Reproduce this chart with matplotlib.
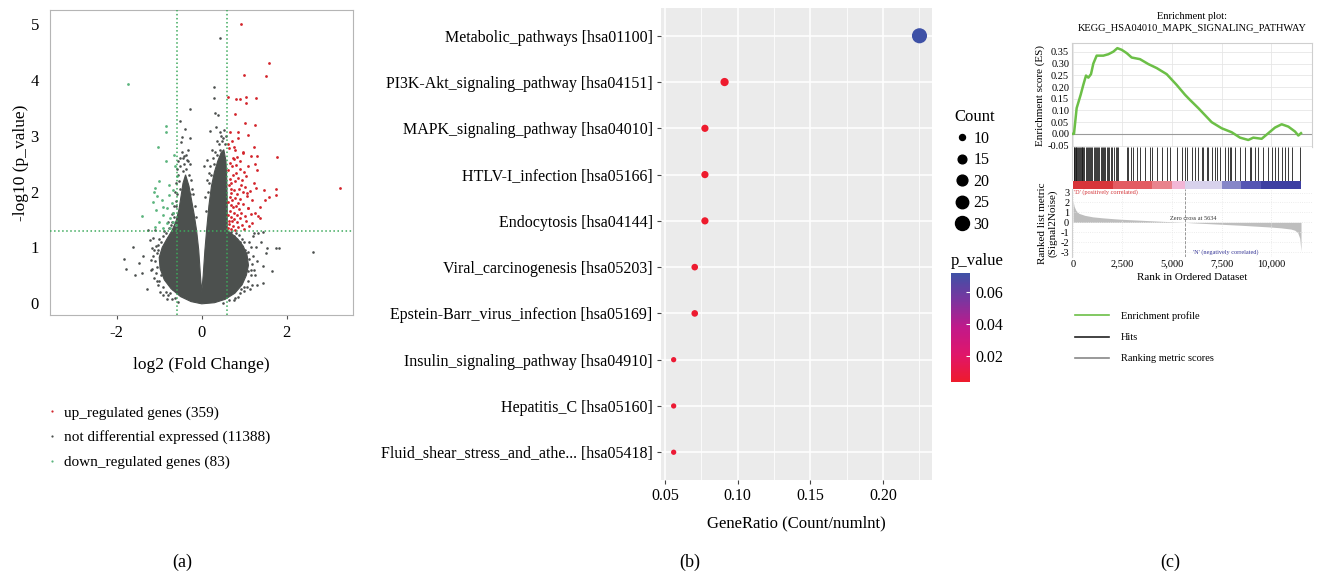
import numpy as np
import matplotlib
matplotlib.use('Agg')
import matplotlib.pyplot as plt
from matplotlib.colors import LinearSegmentedColormap, BoundaryNorm, ListedColormap
from matplotlib.lines import Line2D
from matplotlib.ticker import FuncFormatter

plt.rcParams['font.family'] = ['Liberation Serif', 'DejaVu Serif']
plt.rcParams['axes.unicode_minus'] = False

W, H = 1317, 573

# ---------------- (a) volcano data ----------------
fc_cut = 0.585
p_cut = 1.301
volcano_labels = ['up_regulated genes (359)', 'not differential expressed (11388)', 'down_regulated genes (83)']

# outline of the densest part of the grey cloud (log2FC, -log10 p)
core_x = [0.0, -0.25, -0.5, -0.72, -0.88, -0.98, -1.0, -0.93, -0.82, -0.7, -0.6, -0.53, -0.48, -0.44, -0.38,
          -0.3, -0.24, -0.18, -0.12, -0.07, -0.03, 0.0,
          0.035, 0.075, 0.12, 0.17, 0.23, 0.3, 0.38, 0.46, 0.52, 0.57, 0.59, 0.6, 0.6, 0.7, 0.85, 0.98, 1.07,
          1.1, 1.05, 0.95, 0.78, 0.55, 0.3]
core_y = [-0.01, 0.03, 0.12, 0.26, 0.42, 0.62, 0.82, 1.0, 1.15, 1.3, 1.48, 1.7, 1.95, 2.15, 2.3,
          2.1, 1.85, 1.6, 1.3, 0.95, 0.5, 0.2,
          0.5, 0.95, 1.35, 1.75, 2.1, 2.35, 2.55, 2.7, 2.75, 2.55, 2.2, 1.8, 1.3, 1.25, 1.15, 1.02, 0.85,
          0.68, 0.5, 0.33, 0.18, 0.07, 0.01]

# loose points round the edge of the cloud
gray_fringe = [(-0.55, 2.3), (-0.5, 2.45), (-0.42, 2.5), (-0.36, 2.4), (-0.3, 2.3), (-0.25, 2.2), (-0.52, 2.05),
               (-0.57, 1.95), (-0.6, 1.75), (-0.65, 1.55), (-0.7, 1.45), (-0.2, 1.95), (-0.16, 1.75),
               (-0.14, 1.55), (-0.56, 2.55), (-0.47, 2.7), (-0.4, 2.2), (-0.33, 2.55), (-0.45, 2.05),
               (-0.28, 1.95), (-1.05, 0.9), (-1.1, 0.75), (-1.08, 0.55), (-1.0, 0.4), (-0.9, 0.3), (-0.95, 1.1),
               (-0.85, 1.25), (-0.78, 1.35), (-0.62, 0.1), (-0.8, 0.15), (-1.15, 0.85), (-1.12, 0.45),
               (-0.97, 0.2), (-0.7, 0.08), (-1.02, 1.05), (-0.9, 1.2), (-0.73, 1.4), (-1.06, 0.65),
               (-1.13, 0.95), (-1.08, 1.02), (-1.0, 1.15), (-0.96, 0.5), (-1.04, 0.32), (-0.92, 0.15),
               (-0.82, 0.08), (-0.55, 0.02), (-1.18, 0.62), (-1.2, 0.78), (-0.88, 1.3), (-0.8, 1.45), (-0.7, 1.6),
               (-0.66, 1.75), (-0.62, 2.0), (-0.6, 2.15), (-0.58, 2.4), (-0.5, 2.6), (-0.38, 2.65), (-0.28, 2.5),
               (-0.22, 2.05),
               (0.55, 2.85), (0.48, 2.9), (0.42, 2.75), (0.35, 2.65), (0.28, 2.5), (0.22, 2.3), (0.15, 2.0),
               (0.1, 1.65), (0.58, 3.0), (0.62, 1.2), (0.75, 1.2), (0.9, 1.1), (1.02, 0.95), (1.12, 0.8),
               (1.15, 0.6), (1.1, 0.4), (1.0, 0.22), (0.85, 0.12), (0.65, 0.05), (1.18, 0.7), (1.15, 1.0),
               (0.8, 1.25), (0.95, 1.15), (0.7, 1.28), (0.5, 2.95), (0.4, 2.85), (0.32, 2.7), (0.18, 2.15),
               (1.08, 0.92), (1.2, 0.85), (1.17, 0.5), (1.06, 0.3), (0.93, 0.25), (0.78, 0.1), (0.5, 0.01),
               (1.12, 1.1), (0.88, 1.22), (1.0, 1.1), (1.23, 0.6), (1.14, 0.25), (0.45, 3.0), (0.52, 3.1),
               (0.36, 2.9), (0.26, 2.6), (0.2, 2.45), (0.13, 2.2), (0.08, 1.9)]

gray_pts = [(0.43, 4.74), (0.30, 3.88), (0.29, 3.68), (-0.28, 3.47), (-0.51, 3.27), (0.31, 3.40), (0.39, 3.37),
            (-0.39, 3.12), (0.33, 3.16), (0.43, 3.06), (-0.47, 2.98), (-0.28, 2.95), (0.20, 3.09), (-0.49, 2.89),
            (-0.42, 2.63), (-0.35, 2.57), (-0.45, 2.36), (-0.53, 2.18), (0.12, 2.57), (0.16, 2.33), (-0.61, 1.83),
            (-0.67, 1.61), (-0.33, 2.75), (-0.45, 2.60), (0.05, 2.45), (0.25, 2.75),
            (-1.84, 0.79), (-1.78, 0.61), (-1.62, 1.01), (-1.57, 0.51), (-1.47, 0.72), (-1.41, 0.54), (-1.29, 0.25),
            (-1.37, 0.84), (-1.22, 1.13), (-1.18, 0.99), (-1.26, 1.31), (-1.10, 1.31), (-1.14, 1.16), (-0.75, 0.18),
            (-0.67, 0.25), (-1.02, 0.95), (-0.92, 0.70), (-1.20, 0.60), (-1.05, 0.40), (-0.85, 0.20),
            (1.22, 1.25), (1.28, 1.01), (1.45, 0.66), (1.53, 0.99), (1.65, 0.57), (1.75, 0.99), (1.83, 0.99),
            (1.45, 0.36), (1.29, 0.33), (1.18, 0.33), (1.25, 0.51), (0.98, 0.66), (1.10, 0.57), (2.63, 0.91),
            (1.51, 0.90), (1.33, 1.25), (1.45, 1.28), (0.90, 0.18), (0.75, 0.06), (1.40, 1.10), (1.20, 1.20),
            (1.05, 0.90), (1.30, 0.75), (1.00, 0.30)]

up_pts = [(0.92, 5.00), (1.58, 4.30), (1.00, 4.09), (1.51, 4.06), (0.61, 3.70), (0.81, 3.65), (0.90, 3.65),
          (1.04, 3.69), (1.04, 3.59), (1.27, 3.67), (0.78, 3.38), (1.02, 3.23), (1.26, 3.20), (0.67, 3.07),
          (0.86, 3.06), (1.10, 3.01), (1.24, 2.80), (1.77, 2.61), (3.26, 2.07), (1.75, 2.04), (1.75, 1.94),
          (1.59, 1.90), (1.29, 2.63), (0.63, 2.86), (0.75, 2.80), (0.98, 2.69), (1.15, 2.63), (1.26, 2.49),
          (1.29, 2.39), (1.47, 2.03), (1.49, 1.85), (1.37, 1.73), (1.33, 1.56), (1.37, 1.52), (1.18, 1.44),
          (1.26, 1.61), (1.23, 2.16), (1.28, 2.06), (1.18, 1.85), (1.10, 1.70), (1.06, 1.97),
          (0.62, 1.35), (0.65, 1.42), (0.68, 1.33), (0.71, 1.48), (0.74, 1.38), (0.78, 1.31), (0.82, 1.45),
          (0.86, 1.36), (0.90, 1.52), (0.95, 1.40), (1.00, 1.33), (1.05, 1.47), (1.12, 1.38),
          (0.63, 1.58), (0.67, 1.66), (0.70, 1.55), (0.73, 1.72), (0.77, 1.61), (0.80, 1.75), (0.84, 1.58),
          (0.88, 1.68), (0.93, 1.62), (0.98, 1.78), (1.03, 1.57), (1.08, 1.70), (1.16, 1.60),
          (0.62, 1.82), (0.66, 1.90), (0.69, 1.97), (0.72, 1.85), (0.76, 2.02), (0.79, 1.88), (0.83, 1.95),
          (0.87, 2.05), (0.91, 1.86), (0.96, 1.99), (1.01, 2.08), (1.06, 1.92), (1.13, 2.01),
          (0.64, 2.12), (0.67, 2.22), (0.70, 2.15), (0.74, 2.30), (0.78, 2.18), (0.81, 2.33), (0.85, 2.24),
          (0.89, 2.40), (0.94, 2.20), (0.99, 2.35), (1.04, 2.27), (1.10, 2.45),
          (0.63, 2.38), (0.66, 2.52), (0.71, 2.45), (0.75, 2.58), (0.80, 2.48), (0.84, 2.62), (0.90, 2.55),
          (0.97, 2.70), (0.65, 2.78), (0.72, 2.90), (0.79, 2.75), (0.86, 2.95),
          (0.64, 1.47), (0.69, 1.76), (0.75, 1.50), (0.85, 1.80), (0.68, 2.05), (0.73, 2.60), (0.92, 2.12)]

down_pts = [(-1.74, 3.93), (-0.85, 3.17), (-0.84, 3.06), (-1.02, 2.79), (-0.65, 2.66), (-0.85, 2.55), (-1.10, 2.06),
            (-1.12, 2.00), (-1.00, 2.18), (-0.78, 2.12), (-0.67, 2.03), (-0.59, 2.27), (-0.94, 1.85), (-0.78, 1.94),
            (-0.71, 1.79), (-1.15, 1.82), (-1.41, 1.56), (-0.82, 1.70), (-0.67, 1.61), (-1.08, 1.67), (-0.90, 1.58),
            (-0.75, 1.52), (-1.00, 1.46), (-0.82, 1.43), (-0.67, 1.46), (-1.10, 1.37), (-0.92, 1.34), (-0.75, 1.34),
            (-0.61, 1.40), (-0.63, 2.45), (-1.06, 1.92), (-0.90, 1.73)]

# ---------------- (b) KEGG dot plot data ----------------
pathways = ['Metabolic_pathways [hsa01100]', 'PI3K-Akt_signaling_pathway [hsa04151]',
            'MAPK_signaling_pathway [hsa04010]', 'HTLV-I_infection [hsa05166]', 'Endocytosis [hsa04144]',
            'Viral_carcinogenesis [hsa05203]', 'Epstein-Barr_virus_infection [hsa05169]',
            'Insulin_signaling_pathway [hsa04910]', 'Hepatitis_C [hsa05160]',
            'Fluid_shear_stress_and_athe... [hsa05418]']
gene_ratio = [0.225, 0.091, 0.0775, 0.0775, 0.0775, 0.0705, 0.0705, 0.056, 0.056, 0.056]
counts = [34, 14, 12, 12, 12, 11, 11, 9, 9, 9]
p_values = [0.072, 0.0045, 0.004, 0.0042, 0.004, 0.005, 0.005, 0.006, 0.006, 0.0065]
count_legend = [10, 15, 20, 25, 30]

# ---------------- (c) GSEA data ----------------
es_rank = [0, 50, 185, 388, 520, 657, 775, 909, 1027, 1195, 1532, 1785, 2037, 2240, 2458, 2710, 2963, 3384,
           3805, 4226, 4731, 5236, 5657, 5909, 6330, 7003, 7508, 8013, 8434, 8854, 9106, 9528, 9865, 10202,
           10539, 10876, 11212, 11380, 11515]
es_val = [0.0, 0.0, 0.11, 0.167, 0.209, 0.249, 0.24, 0.255, 0.30, 0.334, 0.334, 0.34, 0.351, 0.366, 0.359,
          0.345, 0.326, 0.319, 0.298, 0.281, 0.255, 0.209, 0.167, 0.145, 0.11, 0.05, 0.024, 0.007, -0.016,
          -0.026, -0.016, -0.021, 0.003, 0.027, 0.041, 0.031, 0.01, -0.007, 0.003]

hits = [30, 60, 95, 130, 160, 210, 250, 300, 340, 380, 430, 470, 520, 560, 640, 700, 760, 800, 850, 900, 980,
        1050, 1100, 1150, 1210, 1260, 1330, 1390, 1450, 1520, 1580, 1640, 1700, 1760, 1830, 1900, 1980, 2060,
        2150, 2230, 2290, 2712, 2800, 2950, 3050, 3217, 3384, 3636, 3888, 3973, 4226, 4478, 4731, 4899, 5236,
        5488, 5656, 5741, 5994, 6162, 6330, 6498, 6582, 6751, 6834, 7003, 7171, 7256, 7424, 7676, 7845, 7929,
        7960, 8181, 8434, 8686, 8939, 8970, 9191, 9359, 9612, 9864, 10033, 10201, 10369, 10538, 10706, 10874,
        11043, 11464]

rm_rank = [0, 60, 150, 300, 600, 1000, 1500, 2000, 2500, 3000, 3500, 4000, 4500, 5000, 5634, 6000, 6500, 7000,
           7500, 8000, 8500, 9000, 9500, 10000, 10500, 11000, 11200, 11350, 11450, 11515]
rm_val = [2.2, 1.6, 1.2, 0.9, 0.7, 0.55, 0.45, 0.37, 0.3, 0.25, 0.2, 0.15, 0.1, 0.06, 0.0, -0.05, -0.1, -0.15,
          -0.2, -0.25, -0.3, -0.36, -0.42, -0.48, -0.56, -0.68, -0.8, -1.05, -1.6, -2.9]
zero_cross = 5634


def box(l, t, r, b):
    # caixa em pixels -> fração da figura
    return [l / W, 1 - b / H, (r - l) / W, (b - t) / H]


fig = plt.figure(figsize=(W / 100, H / 100), dpi=100)

# ======== (a) volcano ========
ax_a = fig.add_axes(box(50, 10, 353, 315))
gray_c, up_c, down_c = '#4c504e', '#d3252c', '#5cb57e'
ax_a.fill(core_x, core_y, color=gray_c, lw=0.8, zorder=1)
g = np.array(gray_pts + gray_fringe).T
u = np.array(up_pts).T
d = np.array(down_pts).T
ax_a.scatter(g[0], g[1], s=3.5, color=gray_c, lw=0, zorder=2)
ax_a.scatter(u[0], u[1], s=4, color=up_c, lw=0, zorder=2)
ax_a.scatter(d[0], d[1], s=4, color=down_c, lw=0, zorder=2)
for xv in (-fc_cut, fc_cut):
    ax_a.axvline(xv, color='#3daa5c', ls=':', lw=1.1, zorder=3)
ax_a.axhline(p_cut, color='#3daa5c', ls=':', lw=1.1, zorder=3)
ax_a.set_xlim(-3.57, 3.56)
ax_a.set_ylim(-0.21, 5.25)
ax_a.set_xticks([-2, 0, 2])
ax_a.set_yticks(range(6))
ax_a.tick_params(axis='x', length=3, color='#555', labelsize=12, pad=4)
ax_a.tick_params(axis='y', length=0, labelsize=12, pad=8)
for sp in ax_a.spines.values():
    sp.set_color('#b5b5b5')
ax_a.set_xlabel('log2 (Fold Change)', fontsize=12.5, labelpad=12)
ax_a.set_ylabel('-log10 (p_value)', fontsize=12.5, labelpad=1)

leg_handles = [Line2D([], [], ls='', marker='o', ms=1.6, color=c, mew=0) for c in (up_c, gray_c, down_c)]
fig.legend(leg_handles, volcano_labels, loc='upper left', bbox_to_anchor=(40 / W, 1 - 398 / H), frameon=False,
           fontsize=11, handlelength=0.6, handletextpad=0.5, labelspacing=0.72, borderpad=0)

# ======== (b) KEGG ========
ax_b = fig.add_axes(box(661, 8, 932, 480))
ax_b.set_facecolor('#ebebeb')
ypos = np.arange(len(pathways))


def dot_size(c):
    # área em px^2 -> pt^2
    return (8 * np.asarray(c, dtype=float) - 44) * 0.5184


pcmap = LinearSegmentedColormap.from_list('pv', ['#ee1b2c', '#e0166a', '#c1198a', '#7b359f', '#3e51a6'])
sc = ax_b.scatter(gene_ratio, ypos, s=dot_size(counts), c=p_values, cmap=pcmap, vmin=0.0037, vmax=0.072,
                  zorder=3, lw=0)
ax_b.set_xlim(0.0473, 0.2336)
ax_b.set_ylim(len(pathways) - 0.4, -0.6)
ax_b.set_yticks(ypos)
ax_b.set_yticklabels(pathways)
ax_b.set_xticks([0.05, 0.10, 0.15, 0.20])
ax_b.set_xticklabels(['0.05', '0.10', '0.15', '0.20'])
ax_b.set_xticks([0.075, 0.125, 0.175, 0.225], minor=True)
ax_b.grid(which='major', color='white', lw=1.1)
ax_b.grid(which='minor', axis='x', color='white', lw=0.55)
ax_b.set_axisbelow(True)
for sp in ax_b.spines.values():
    sp.set_visible(False)
ax_b.tick_params(which='major', length=3, color='#444', labelsize=11.5, pad=3)
ax_b.tick_params(which='minor', length=0)
ax_b.set_xlabel('GeneRatio (Count/numlnt)', fontsize=12, labelpad=8)

cax = fig.add_axes(box(951, 273, 970, 382))
cb = fig.colorbar(sc, cax=cax, ticks=[0.02, 0.04, 0.06])
cb.outline.set_visible(False)
cax.tick_params(length=3, color='white', direction='in', labelsize=11.5, pad=4)
cax.set_yticklabels(['0.02', '0.04', '0.06'])
cax.set_title('p_value', loc='left', fontsize=12, pad=6)

size_handles = [Line2D([], [], ls='', marker='o', color='black', ms=np.sqrt(dot_size(c))) for c in count_legend]
fig.legend(size_handles, [str(c) for c in count_legend], title='Count', loc='upper left',
           bbox_to_anchor=(946 / W, 1 - 101 / H), frameon=False, fontsize=11.5, title_fontsize=12,
           alignment='left', handlelength=1.0, handletextpad=0.2, labelspacing=0.35, borderpad=0)

# ======== (c) GSEA ========
ax_es = fig.add_axes(box(1072, 43, 1312, 147))
ax_hit = fig.add_axes(box(1072, 147, 1312, 181), sharex=ax_es)
ax_band = fig.add_axes(box(1072, 181, 1312, 189), sharex=ax_es)
ax_rm = fig.add_axes(box(1072, 189, 1312, 257), sharex=ax_es)

fs_c = 7.5
ax_es.plot(es_rank, es_val, color='#6cbf47', lw=1.8, zorder=3)
ax_es.axhline(0, color='#9a9a9a', lw=0.8, zorder=2)
ax_es.set_xlim(-50, 12070)
ax_es.set_ylim(-0.056, 0.388)
ax_es.set_yticks(np.round(np.arange(-0.05, 0.36, 0.05), 2))
ax_es.yaxis.set_major_formatter(FuncFormatter(lambda v, p: f'{v:.2f}'))
ax_es.set_xticks([0, 2500, 5000, 7500, 10000])
ax_es.grid(color='#e6e6e6', lw=0.6)
ax_es.tick_params(length=0, labelsize=fs_c, pad=2, labelbottom=False)
ax_es.set_ylabel('Enrichment score (ES)', fontsize=fs_c + 0.5, labelpad=2)
ax_es.set_title('Enrichment plot:\nKEGG_HSA04010_MAPK_SIGNALING_PATHWAY', fontsize=fs_c, pad=9, linespacing=1.35)
for sp in ax_es.spines.values():
    sp.set_color('#cfcfcf')

ax_hit.vlines(hits, 0, 1, color='#1a1a1a', lw=0.6)
ax_hit.set_ylim(0, 1)
ax_hit.set_yticks([])
ax_hit.tick_params(length=0, labelbottom=False)
for name, sp in ax_hit.spines.items():
    sp.set_visible(name == 'left')
    sp.set_color('#cfcfcf')

band_bounds = [-4, -0.4, -0.25, -0.15, 0.001, 0.1, 0.2, 0.4, 4]
band_cols = ['#3e3fa2', '#5656b4', '#8686c8', '#d8d2ec', '#f2b6d6', '#e9838d', '#e35c62', '#d7353a']
band_cmap = ListedColormap(band_cols)
band_norm = BoundaryNorm(band_bounds, band_cmap.N)
ax_band.pcolormesh(rm_rank, [0, 1], np.array(rm_val[:-1]).reshape(1, -1), cmap=band_cmap, norm=band_norm)
ax_band.set_ylim(0, 1)
ax_band.set_yticks([])
ax_band.tick_params(length=0, labelbottom=False)
for sp in ax_band.spines.values():
    sp.set_visible(False)

ax_rm.fill_between(rm_rank, rm_val, 0, color='#bebebe', lw=0)
ax_rm.axvline(zero_cross, color='#888', ls='--', lw=0.6)
ax_rm.set_ylim(-3.5, 3.36)
ax_rm.set_yticks(range(3, -4, -1))
ax_rm.grid(color='#e6e6e6', lw=0.6, ls=':')
ax_rm.tick_params(length=0, labelsize=fs_c, pad=2)
ax_rm.xaxis.set_major_formatter(FuncFormatter(lambda v, p: f'{v:,.0f}'))
ax_rm.set_xlabel('Rank in Ordered Dataset', fontsize=fs_c + 0.5, labelpad=3)
ax_rm.set_ylabel('Ranked list metric\n(Signal2Noise)', fontsize=fs_c + 0.5, labelpad=2, linespacing=1.1)
for name, sp in ax_rm.spines.items():
    sp.set_visible(name == 'left')
    sp.set_color('#cfcfcf')
ax_rm.text(40, 3.0, "'D' (positively correlated)", color='#d8383c', fontsize=4.5, va='center')
ax_rm.text(zero_cross - 750, 0.4, f'Zero cross at {zero_cross}', color='#333', fontsize=4.5, va='center')
ax_rm.text(zero_cross + 450, -3.05, "'N' (negatively correlated)", color='#3a3a9a', fontsize=4.5, va='center')

gsea_handles = [Line2D([], [], color='#6cbf47', lw=1.2), Line2D([], [], color='#222', lw=1.2),
                Line2D([], [], color='#888', lw=1.2)]
fig.legend(gsea_handles, ['Enrichment profile', 'Hits', 'Ranking metric scores'], loc='upper left',
           bbox_to_anchor=(1070 / W, 1 - 306 / H), frameon=False, fontsize=fs_c, handlelength=3.2,
           handletextpad=1.2, labelspacing=1.15, borderpad=0)

# panel letters
for xp, lab in ((182, '(a)'), (690, '(b)'), (1170, '(c)')):
    fig.text(xp / W, 1 - 562 / H, lab, ha='center', va='center', fontsize=13)

fig.savefig('out.png', dpi=100)
